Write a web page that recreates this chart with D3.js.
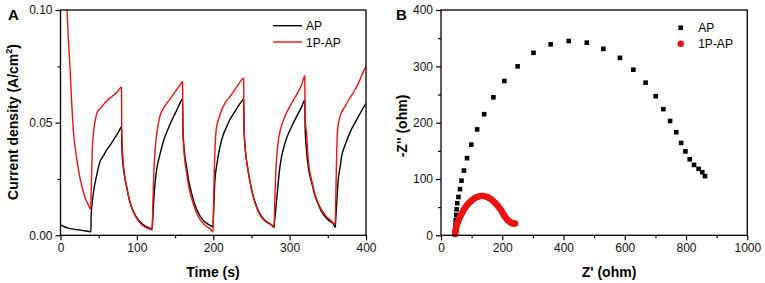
<!DOCTYPE html>
<html>
<head>
<meta charset="utf-8">
<script src="https://cdn.jsdelivr.net/npm/d3@7"></script>
<style>
  body { margin: 0; background: #fff; }
  svg { font-family: Arial, "Liberation Sans", sans-serif; }
</style>
</head>
<body>
<div id="chart"></div>
<script>
var width = 765;
var height = 283;

// panel A : chopped light current, [time (s), current density (A/cm2)]
let apCurrent = [
  [0,0.0046],[5,0.0038],[10,0.0032],[20,0.0026],[30,0.0021],[39.7,0.0016],
  [40.2,0.0090],[42,0.016],[44,0.021],[47,0.026],[51.7,0.0327],[56,0.0352],[60.5,0.0379],[66,0.0405],[71,0.0432],[76,0.0458],[79.8,0.0482],
  [80.3,0.040],[82,0.031],[84,0.026],[86.6,0.0216],[90,0.016],[93,0.0127],[97,0.0095],[102,0.0068],[106,0.0053],[111,0.0041],[116,0.0033],[119.7,0.0028],
  [120.2,0.004],[121.5,0.012],[123,0.020],[125,0.027],[130,0.0356],[135,0.042],[140,0.0465],[145,0.0505],[150,0.054],[155,0.0575],[159.8,0.0605],
  [160.3,0.048],[162,0.038],[165,0.0305],[168,0.024],[171.7,0.0186],[175,0.0145],[178,0.0118],[182,0.0090],[187,0.0066],[192,0.0052],[196,0.0044],[199.7,0.0038],
  [200.2,0.008],[202.2,0.0245],[205,0.032],[208.8,0.0393],[213,0.0445],[217.5,0.0482],[222,0.0515],[228.4,0.0549],[233,0.0575],[238.5,0.0600],[239.8,0.0605],
  [240.3,0.048],[242,0.038],[245,0.030],[248,0.024],[252,0.0178],[256,0.0135],[260,0.0102],[265,0.0076],[270,0.0060],[275,0.0050],[279.7,0.0035],
  [280.2,0.006],[281.5,0.010],[283,0.0157],[287.3,0.0305],[293.8,0.0408],[302.6,0.0482],[311.3,0.0541],[316,0.0572],[319.8,0.0600],
  [320.3,0.048],[322,0.038],[325,0.029],[328.8,0.0235],[333,0.0178],[337.5,0.0138],[342,0.0104],[348,0.0077],[353,0.0061],[357,0.0052],[359.7,0.0036],
  [360.2,0.006],[362,0.016],[363.6,0.0245],[366,0.030],[368,0.0349],[372,0.0395],[376.7,0.0438],[382,0.0478],[387.7,0.0512],[393,0.0545],[398.6,0.0578],[400,0.0585]
];
let p1Current = [
  [6,0.120],[8.5,0.1005],[10,0.089],[12.4,0.0748],[14.5,0.0600],[16.8,0.0465],[20,0.0370],[23.3,0.0295],[26.5,0.0238],[29.9,0.0192],[33,0.0160],[36.5,0.0135],[39.7,0.0115],
  [40.2,0.020],[41.6,0.038],[43,0.045],[45,0.050],[48,0.0545],[54,0.0570],[60,0.0595],[67,0.0615],[74,0.0635],[79.8,0.0657],
  [80.3,0.045],[82,0.0330],[84,0.0265],[86.6,0.0216],[90,0.0160],[93,0.0125],[97,0.0092],[102,0.0065],[106,0.0048],[111,0.0036],[116,0.0029],[119.7,0.0024],
  [120.2,0.004],[121,0.015],[122,0.026],[123.5,0.036],[126,0.045],[130,0.0527],[135,0.0565],[140,0.0590],[145,0.0612],[150,0.0637],[155,0.0660],[159.8,0.0682],
  [160.3,0.046],[162,0.036],[165,0.028],[168,0.0215],[171.7,0.0165],[175,0.0128],[178,0.0100],[182,0.0074],[187,0.0052],[192,0.0038],[196,0.0028],[199.7,0.0015],
  [200.2,0.010],[201.5,0.030],[202.5,0.040],[204.4,0.0482],[208,0.0525],[211,0.0556],[216,0.0590],[221.9,0.0615],[228,0.0645],[233,0.0670],[237,0.0690],[239.8,0.0697],
  [240.3,0.048],[242,0.038],[245,0.030],[248,0.024],[252,0.0175],[256,0.013],[260,0.0098],[265,0.0072],[270,0.0057],[275,0.0048],[279.7,0.0040],
  [280.2,0.010],[281.5,0.025],[284.3,0.0393],[288,0.0470],[293.8,0.0527],[302.6,0.0586],[311.3,0.0638],[316,0.0670],[319.8,0.0707],
  [320.3,0.052],[322.2,0.0453],[324.4,0.0334],[328.8,0.0245],[333,0.0185],[337.5,0.0142],[342,0.0112],[348.4,0.0083],[354,0.0066],[359.7,0.0050],
  [360.2,0.012],[361.5,0.035],[362.8,0.0470],[366,0.0527],[372.4,0.0571],[378,0.0605],[385.5,0.0645],[392,0.0690],[398.6,0.0741],[400,0.0748]
];

// panel B : Nyquist plot, [Z' (ohm), -Z'' (ohm)]
let apNyquist = [
  [45,3],[46,9],[47,18],[48,27],[50,36],[51,46],[53,57],[57,68],[62,82],[67,97],[75,115],[85,137],[99,161],
  [118,188],[141,215],[171,245],[207,274],[250,300],[302,324],[358,339],[417,345],[476,342],[530,331],[584,315],
  [628,294],[668,271],[701,247],[726,224],[748,203],[768,183],[784,164],[798,149],[812,135],[826,125],[841,118],[853,112],[862,105]
];
let p1Nyquist = [
  [46,2],[47,5],[48,9],[49,13],[51,17],[53,21],[56,25],[59,29],[62,33],[66,37],[70,41],[74,45],[79,49],[84,53],
  [90,57],[96,60],[103,63],[110,66],[117,68],[124,69],[131,70],[138,70],[145,69],[152,68],[158,66],[164,64],
  [170,61],[176,58],[181,55],[186,52],[191,48],[196,45],[200,41],[204,37],[208,34],[212,31],[216,28],[220,26],
  [225,24],[229,22],[234,21],[238,21],[242,21]
];

let seriesNames = ["AP", "1P-AP"];
let seriesColors = ["#000000", "#ee1111"];

let timeTicks = [0, 100, 200, 300, 400];
let timeMinor = [50, 150, 250, 350];
let currentTicks = [0, 0.05, 0.10];
let currentMinor = [0.025, 0.075];
let zReTicks = [0, 200, 400, 600, 800, 1000];
let zReMinor = [100, 300, 500, 700, 900];
let zImTicks = [0, 100, 200, 300, 400];
let zImMinor = [50, 150, 250, 350];

var svg = d3.select("#chart")
            .append("svg")
              .attr("width", width).attr("height", height);

function drawAxes(g, x, y, xt, xm, yt, ym, xfmt, yfmt) {
    g.append("g").attr("transform", `translate(0,${y.range()[0]})`)
        .call(d3.axisBottom(x).tickValues(xt).tickSize(5).tickSizeOuter(0).tickFormat(xfmt))
        .call(a => a.select(".domain").remove());
    g.append("g").attr("transform", `translate(0,${y.range()[0]})`)
        .call(d3.axisBottom(x).tickValues(xm).tickSize(3).tickFormat(""))
        .call(a => a.select(".domain").remove());
    g.append("g").attr("transform", `translate(${x.range()[0]},0)`)
        .call(d3.axisLeft(y).tickValues(yt).tickSize(5).tickSizeOuter(0).tickFormat(yfmt))
        .call(a => a.select(".domain").remove());
    g.append("g").attr("transform", `translate(${x.range()[0]},0)`)
        .call(d3.axisLeft(y).tickValues(ym).tickSize(3).tickFormat(""))
        .call(a => a.select(".domain").remove());
    g.selectAll(".tick line").attr("stroke", "#000").attr("stroke-width", 1.2);
    g.selectAll(".tick text").attr("font-size", 12).attr("fill", "#111")
        .attr("font-family", "Arial, 'Liberation Sans', sans-serif");
    g.append("rect")
        .attr("x", x.range()[0]).attr("y", y.range()[1])
        .attr("width", x.range()[1] - x.range()[0]).attr("height", y.range()[0] - y.range()[1])
        .attr("fill", "none").attr("stroke", "#000").attr("stroke-width", 1.3);
}

// ---------- panel A ----------
let xA = d3.scaleLinear().domain([0, 400]).range([60.5, 366]);
let yA = d3.scaleLinear().domain([0, 0.10]).range([235.3, 10]);

let gA = svg.append("g");
gA.append("clipPath").attr("id", "clipA").append("rect")
    .attr("x", xA.range()[0]).attr("y", yA.range()[1])
    .attr("width", xA.range()[1] - xA.range()[0]).attr("height", yA.range()[0] - yA.range()[1]);

let lineA = d3.line().x(d => xA(d[0])).y(d => yA(d[1])).curve(d3.curveMonotoneX);
gA.append("g").attr("clip-path", "url(#clipA)")
    .selectAll("path").data([apCurrent, p1Current])
    .join("path")
      .attr("d", lineA)
      .attr("fill", "none")
      .attr("stroke", (d, i) => seriesColors[i])
      .attr("stroke-width", 1.4)
      .attr("stroke-linejoin", "round");

drawAxes(gA, xA, yA, timeTicks, timeMinor, currentTicks, currentMinor, d3.format("d"), d3.format(".2f"));

gA.append("text").attr("x", 213).attr("y", 277).attr("text-anchor", "middle")
    .attr("font-size", 14).attr("font-weight", "bold").text("Time (s)");
let ylabA = gA.append("text").attr("transform", "translate(18,122) rotate(-90)")
    .attr("text-anchor", "middle").attr("font-size", 14).attr("font-weight", "bold");
ylabA.append("tspan").text("Current density (A/cm");
ylabA.append("tspan").attr("font-size", 9).attr("dy", -6).text("2");
ylabA.append("tspan").attr("dy", 6).text(")");
gA.append("text").attr("x", 8).attr("y", 20).attr("font-size", 15).attr("font-weight", "bold").text("A");

let legA = gA.selectAll(".legA").data(seriesNames).join("g").attr("class", "legA")
    .attr("transform", (d, i) => `translate(273,${25.7 + i * 16.3})`);
legA.append("line").attr("x1", 0).attr("x2", 29)
    .attr("stroke", (d, i) => seriesColors[i]).attr("stroke-width", 1.4);
legA.append("text").attr("x", 33).attr("y", 4.5).attr("font-size", 12).text(d => d);

// ---------- panel B ----------
let xB = d3.scaleLinear().domain([0, 1000]).range([441, 747.3]);
let yB = d3.scaleLinear().domain([0, 400]).range([235.3, 10]);

let gB = svg.append("g");
let sq = 4.6;
gB.selectAll(".sqAP").data(apNyquist).join("rect").attr("class", "sqAP")
    .attr("x", d => xB(d[0]) - sq / 2).attr("y", d => yB(d[1]) - sq / 2)
    .attr("width", sq).attr("height", sq).attr("fill", seriesColors[0]);
gB.selectAll(".dotP1").data(p1Nyquist).join("circle").attr("class", "dotP1")
    .attr("cx", d => xB(d[0])).attr("cy", d => yB(d[1]))
    .attr("r", 3.2).attr("fill", seriesColors[1]);

drawAxes(gB, xB, yB, zReTicks, zReMinor, zImTicks, zImMinor, d3.format("d"), d3.format("d"));

gB.append("text").attr("x", 609).attr("y", 277).attr("text-anchor", "middle")
    .attr("font-size", 14).attr("font-weight", "bold").text("Z' (ohm)");
gB.append("text").attr("transform", "translate(407,126) rotate(-90)")
    .attr("text-anchor", "middle").attr("font-size", 14).attr("font-weight", "bold").text("-Z'' (ohm)");
gB.append("text").attr("x", 396).attr("y", 20).attr("font-size", 15).attr("font-weight", "bold").text("B");

let legB = gB.selectAll(".legB").data(seriesNames).join("g").attr("class", "legB")
    .attr("transform", (d, i) => `translate(680.7,${27.7 + i * 16})`);
legB.filter((d, i) => i == 0).append("rect").attr("x", -sq / 2).attr("y", -sq / 2)
    .attr("width", sq).attr("height", sq).attr("fill", seriesColors[0]);
legB.filter((d, i) => i == 1).append("circle").attr("r", 3.2).attr("fill", seriesColors[1]);
legB.append("text").attr("x", 17.5).attr("y", 4.5).attr("font-size", 12).text(d => d);
</script>
</body>
</html>
